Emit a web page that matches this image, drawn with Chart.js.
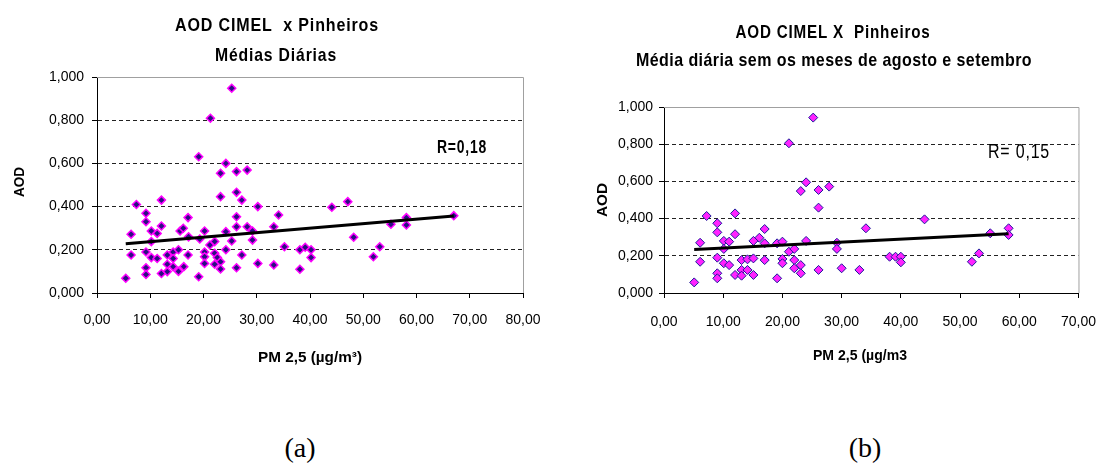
<!DOCTYPE html>
<html>
<head>
<meta charset="utf-8">
<script src="https://cdn.jsdelivr.net/npm/chart.js@4.4.1/dist/chart.umd.min.js"></script>
<style>
  body { margin: 0; background: #fff; }
  #wrap { position: relative; width: 1112px; height: 463px; overflow: hidden; }
  canvas { position: absolute; top: 0; }
  .cap { position: absolute; width: 100px; text-align: center; font: 28px 'Liberation Serif', 'Times New Roman', serif; line-height: 28px; top: 434px; }
</style>
</head>
<body>
<div id="wrap">
  <canvas id="chartA" width="556" height="380" style="left:0px"></canvas>
  <canvas id="chartB" width="556" height="380" style="left:556px"></canvas>
  <div class="cap" style="left:250px">(a)</div>
  <div class="cap" style="left:815px">(b)</div>
</div>
<script>
const yTickLabels = ['0,000', '0,200', '0,400', '0,600', '0,800', '1,000']
const xTickLabelsA = ['0,00', '10,00', '20,00', '30,00', '40,00', '50,00', '60,00', '70,00', '80,00']
const xTickLabelsB = ['0,00', '10,00', '20,00', '30,00', '40,00', '50,00', '60,00', '70,00']

// (a) daily means, PM2.5 vs AOD
const pmA = [5.4, 6.4, 6.4, 7.4, 9.2, 9.2, 9.2, 9.2, 9.2, 10.2, 10.2, 10.2, 11.3, 11.3, 12.1, 12.1, 12.1,
  13.2, 13.2, 13.2, 14.3, 14.3, 14.3, 15.3, 15.3, 15.6, 16.2, 16.3, 17.1, 17.2, 17.1, 19.1, 19.1, 19.3,
  20.2, 20.2, 20.2, 20.2, 21.3, 21.2, 22.1, 22.1, 22.1, 22.6, 23.2, 23.2, 23.2, 23.2, 24.2, 24.2, 24.2,
  25.3, 25.3, 26.2, 26.2, 26.2, 26.2, 26.2, 27.2, 27.2, 28.2, 28.2, 29.2, 29.2, 30.2, 30.2, 33.2, 33.2,
  34.1, 35.2, 38.1, 38.1, 39.1, 40.2, 40.2, 44.1, 47.1, 48.2, 51.9, 53.1, 55.2, 58.1, 58.1, 67.0]
const aodA = [0.068, 0.176, 0.272, 0.41, 0.369, 0.33, 0.19, 0.117, 0.086, 0.287, 0.238, 0.164, 0.276, 0.16, 0.43, 0.31, 0.09,
  0.176, 0.133, 0.099, 0.19, 0.16, 0.122, 0.2, 0.1, 0.287, 0.3, 0.122, 0.349, 0.26, 0.176, 0.631, 0.075, 0.25,
  0.287, 0.19, 0.168, 0.137, 0.809, 0.222, 0.238, 0.184, 0.133, 0.164, 0.554, 0.446, 0.145, 0.111, 0.6, 0.284, 0.2,
  0.948, 0.241, 0.562, 0.466, 0.353, 0.307, 0.117, 0.43, 0.176, 0.569, 0.307, 0.287, 0.245, 0.4, 0.137, 0.307, 0.13,
  0.361, 0.214, 0.2, 0.11, 0.212, 0.2, 0.164, 0.397, 0.423, 0.258, 0.168, 0.214, 0.318, 0.349, 0.315, 0.358]
const trendPmA = [5.4, 67.0]
const trendAodA = [0.228, 0.357]

// (b) without august and september
const pmB = [5.1, 6.1, 6.1, 7.2, 9.0, 9.0, 9.0, 9.0, 9.0, 10.1, 10.1, 10.1, 11.0, 11.0, 12.0, 12.0, 12.0,
  13.1, 13.1, 13.1, 14.1, 14.1, 15.1, 15.1, 15.1, 16.1, 17.0, 17.0, 17.0, 19.1, 19.1, 20.0, 20.0, 20.0,
  21.1, 21.1, 22.0, 22.0, 22.0, 23.1, 23.1, 23.1, 24.0, 24.0, 25.2, 26.1, 26.1, 26.1, 27.9, 29.2, 29.2,
  30.0, 33.0, 34.1, 38.1, 39.1, 40.0, 40.0, 44.0, 52.0, 53.2, 55.1, 58.2, 58.2]
const aodB = [0.057, 0.27, 0.168, 0.414, 0.375, 0.326, 0.19, 0.106, 0.079, 0.28, 0.237, 0.16, 0.276, 0.15, 0.428, 0.316, 0.097,
  0.177, 0.124, 0.093, 0.181, 0.124, 0.28, 0.186, 0.097, 0.297, 0.344, 0.267, 0.177, 0.079, 0.267, 0.276, 0.183, 0.16,
  0.805, 0.222, 0.237, 0.177, 0.133, 0.548, 0.15, 0.106, 0.595, 0.28, 0.943, 0.554, 0.459, 0.124, 0.572, 0.27, 0.237,
  0.133, 0.124, 0.348, 0.195, 0.195, 0.195, 0.165, 0.396, 0.168, 0.213, 0.321, 0.348, 0.312]
const trendPmB = [5.1, 58.2]
const trendAodB = [0.234, 0.318]

const SANS = "'Liberation Sans', Arial, sans-serif"
Chart.defaults.font.family = SANS
Chart.defaults.color = '#000'

const toPoints = (xs, ys) => xs.map((x, i) => ({x: x, y: ys[i]}))

// titles, axis titles and R labels; squeezed horizontally to look like the narrow original font
const textPlugin = {
  id: 'texts',
  afterDraw(chart, args, opts) {
    const ctx = chart.ctx
    opts.items.forEach(t => {
      ctx.save()
      ctx.font = t.font + ' ' + SANS
      ctx.fillStyle = '#000'
      ctx.textAlign = t.align || 'center'
      ctx.textBaseline = 'alphabetic'
      ctx.letterSpacing = (t.spacing || 0) + 'px'
      const sx = t.w ? t.w / ctx.measureText(t.text).width : 1
      ctx.translate(t.x, t.y)
      if (t.rotate) ctx.rotate(-Math.PI / 2)
      ctx.scale(sx, 1)
      ctx.fillText(t.text, 0, 0)
      ctx.restore()
    })
  }
}

// gray frame on the top and right of the plot area
const framePlugin = {
  id: 'frame',
  beforeDatasetsDraw(chart) {
    const {ctx, chartArea: a} = chart
    ctx.save()
    ctx.strokeStyle = '#a0a0a0'
    ctx.lineWidth = 1
    ctx.beginPath()
    ctx.moveTo(a.left, a.top + 0.5)
    ctx.lineTo(a.right + 0.5, a.top + 0.5)
    ctx.lineTo(a.right + 0.5, a.bottom)
    ctx.stroke()
    ctx.restore()
  }
}

function makeChart(id, cfg) {
  const lastY = yTickLabels.length - 1
  return new Chart(document.getElementById(id), {
    type: 'scatter',
    data: {
      datasets: [{
        type: 'line',
        data: toPoints(cfg.trendX, cfg.trendY),
        borderColor: '#000',
        borderWidth: 3,
        pointRadius: 0,
        fill: false
      }, {
        data: toPoints(cfg.xs, cfg.ys),
        pointStyle: 'rectRot',
        pointRadius: cfg.radius,
        backgroundColor: cfg.fill,
        borderColor: cfg.stroke,
        borderWidth: cfg.bw
      }]
    },
    options: {
      responsive: false,
      animation: false,
      layout: {padding: cfg.padding},
      plugins: {
        legend: {display: false},
        tooltip: {enabled: false},
        texts: {items: cfg.texts}
      },
      scales: {
        x: {
          type: 'linear',
          min: 0,
          max: cfg.xMax,
          ticks: {
            stepSize: 10,
            padding: cfg.xPad,
            font: {size: 14},
            maxRotation: 0,
            callback: (v, i) => cfg.xLabels[i]
          },
          grid: {drawOnChartArea: false, tickLength: 5, tickColor: '#000'},
          border: {color: '#000', width: 1},
          afterFit: s => { s.height = cfg.xHeight }
        },
        y: {
          min: 0,
          max: 1,
          ticks: {
            stepSize: 0.2,
            padding: cfg.yPad,
            font: {size: 14},
            callback: (v, i) => yTickLabels[i]
          },
          grid: {
            color: c => (c.index === 0 || c.index === lastY) ? 'transparent' : '#222',
            tickLength: 5,
            tickColor: '#000'
          },
          border: {color: '#000', width: 1, dash: [4, 3]},
          afterFit: s => { s.width = cfg.yWidth }
        }
      }
    },
    plugins: [framePlugin, textPlugin]
  })
}

makeChart('chartA', {
  xs: pmA, ys: aodA, trendX: trendPmA, trendY: trendAodA,
  xMax: 80, xLabels: xTickLabelsA,
  fill: '#2a1080', stroke: '#ff00ff', radius: 4, bw: 1.5,
  padding: {left: 0, top: 77, right: 33, bottom: 0},
  yWidth: 97, xHeight: 87, xPad: 14, yPad: 8,
  texts: [
    {text: 'AOD CIMEL  x Pinheiros', font: 'bold 19px', x: 277, y: 31, spacing: 1, w: 204},
    {text: 'Médias Diárias', font: 'bold 19px', x: 276, y: 61, spacing: 1, w: 122},
    {text: 'R=0,18', font: 'bold 18px', x: 437, y: 153, align: 'left', spacing: 1, w: 50},
    {text: 'AOD', font: 'bold 14px', x: 24, y: 182, rotate: true, w: 30},
    {text: 'PM 2,5 (µg/m³)', font: 'bold 14px', x: 310, y: 362, w: 104}
  ]
})

makeChart('chartB', {
  xs: pmB, ys: aodB, trendX: trendPmB, trendY: trendAodB,
  xMax: 70, xLabels: xTickLabelsB,
  fill: '#ff22ff', stroke: '#1a1a9a', radius: 4.5, bw: 1,
  padding: {left: 0, top: 107, right: 23, bottom: 0},
  yWidth: 108, xHeight: 87, xPad: 16, yPad: 6,
  texts: [
    {text: 'AOD CIMEL X  Pinheiros', font: 'bold 19px', x: 277, y: 38, spacing: 1, w: 195},
    {text: 'Média diária sem os meses de agosto e setembro', font: 'bold 19px', x: 278, y: 66, spacing: 0.5, w: 396},
    {text: 'R= 0,15', font: '20px', x: 432, y: 158, align: 'left', spacing: 1, w: 62},
    {text: 'AOD', font: 'bold 15px', x: 51, y: 200, rotate: true, w: 34},
    {text: 'PM 2,5 (µg/m3', font: 'bold 14px', x: 304, y: 360, w: 94}
  ]
})
</script>
</body>
</html>
